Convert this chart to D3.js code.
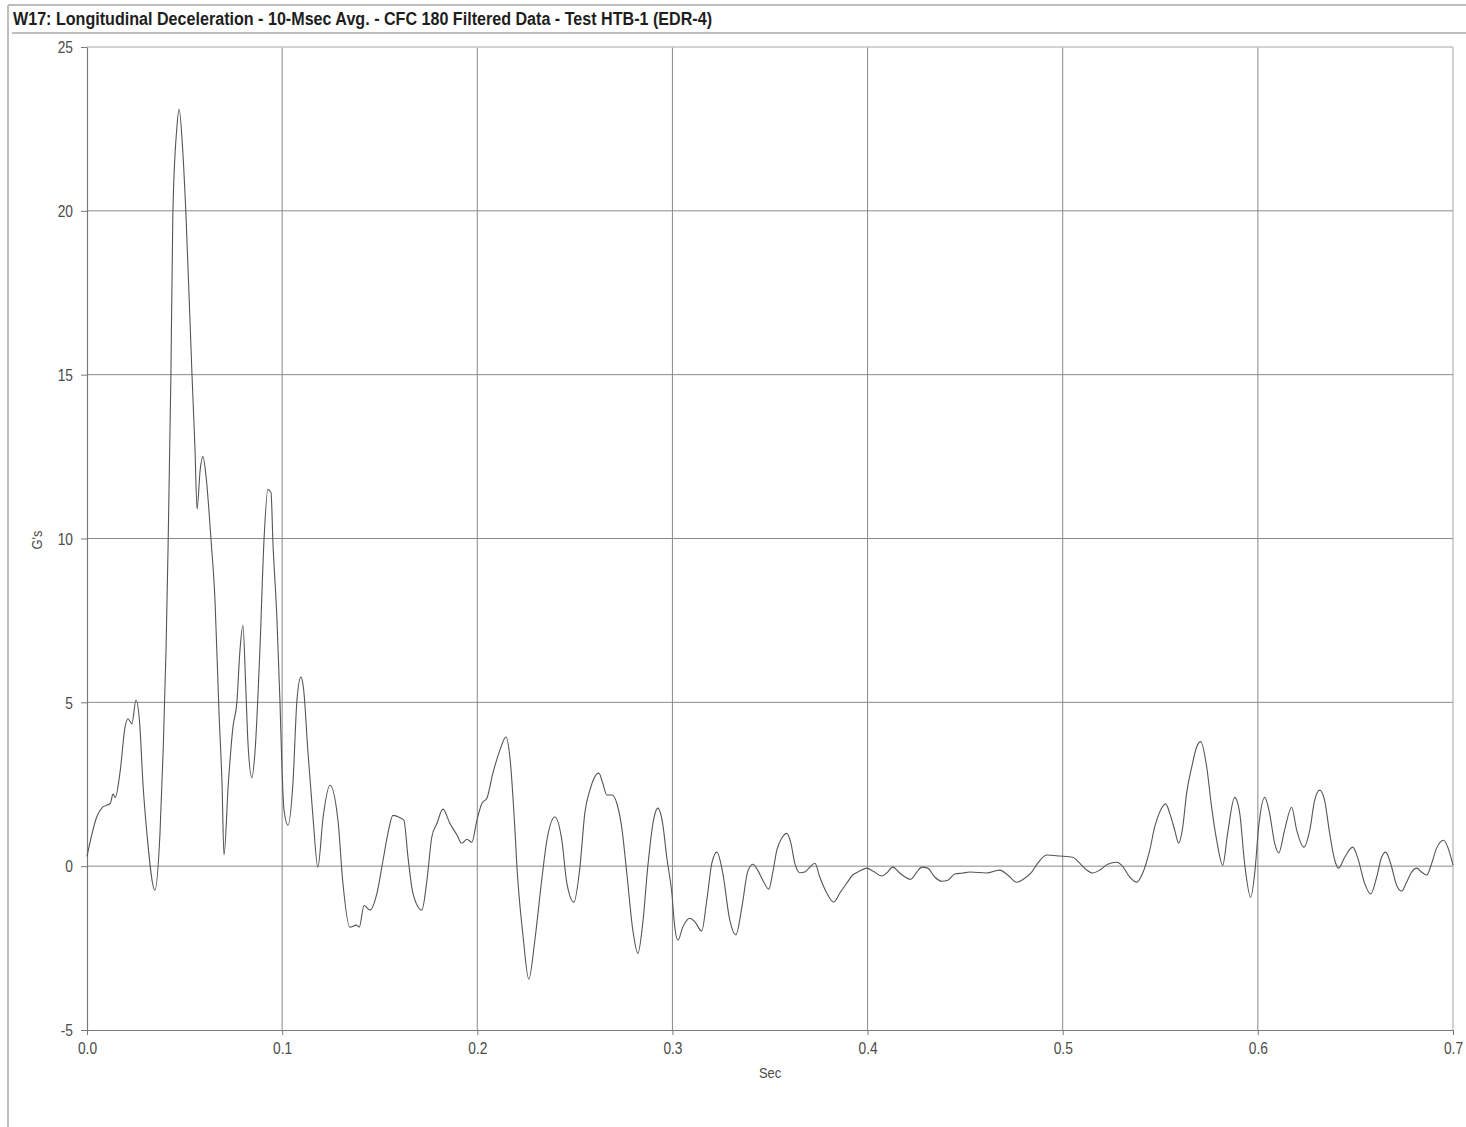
<!DOCTYPE html>
<html>
<head>
<meta charset="utf-8">
<script src="https://cdn.jsdelivr.net/npm/d3@7"></script>
<style>
  html, body { margin: 0; padding: 0; background: #fff; }
  svg { display: block; }
</style>
</head>
<body>
<svg id="chart" width="1466" height="1127"></svg>
<script>
const title = "W17: Longitudinal Deceleration - 10-Msec Avg. - CFC 180 Filtered Data - Test HTB-1 (EDR-4)";
const xLabel = "Sec";
const yLabel = "G's";
const xTicks = [0, 0.1, 0.2, 0.3, 0.4, 0.5, 0.6, 0.7];
const yTicks = [-5, 0, 5, 10, 15, 20, 25];

const timeSec = [
  0.000, 0.005, 0.008, 0.012, 0.0133, 0.0145, 0.017, 0.0195, 0.021, 0.023, 0.0251, 0.027, 0.0287, 0.0307, 0.0348, 0.0374, 0.039, 0.0405, 0.0415,
  0.043, 0.044, 0.046, 0.0472, 0.049, 0.0507, 0.0538, 0.0553, 0.0564, 0.058, 0.0594, 0.061, 0.0635, 0.0656, 0.0676, 0.0692, 0.0702,
  0.0724, 0.0748, 0.0768, 0.0784, 0.0799, 0.0814, 0.0825, 0.0845, 0.0861, 0.0886, 0.0907, 0.0927, 0.0943, 0.0953, 0.0973, 0.0989, 0.0999,
  0.101, 0.103, 0.1055, 0.1076, 0.1096, 0.111, 0.1132, 0.1158, 0.1183, 0.121, 0.1245, 0.1286, 0.131, 0.1347, 0.138, 0.1395, 0.142, 0.145,
  0.1486, 0.1517, 0.1542, 0.1568, 0.1609, 0.1624, 0.1645, 0.167, 0.1716, 0.1742, 0.1767, 0.1793, 0.1824, 0.186, 0.1896, 0.192, 0.1947,
  0.1972, 0.1998, 0.2024, 0.2049, 0.208, 0.2116, 0.2147, 0.2167, 0.2193, 0.2203, 0.2234, 0.2264, 0.2295, 0.233, 0.2357, 0.2398, 0.2433,
  0.2459, 0.2495, 0.2526, 0.2551, 0.2577, 0.2623, 0.2643, 0.2664, 0.269, 0.2715, 0.274, 0.2766, 0.2797, 0.2823, 0.2848, 0.2874, 0.290,
  0.2925, 0.295, 0.2971, 0.2997, 0.3012, 0.3028, 0.3053, 0.3089, 0.3115, 0.315, 0.3176, 0.3202, 0.3228, 0.3258, 0.3294, 0.3325, 0.3356,
  0.3386, 0.3412, 0.3437, 0.3463, 0.3494, 0.3514, 0.3535, 0.356, 0.3586, 0.3607, 0.3627, 0.3653, 0.3678, 0.3704, 0.373, 0.3755, 0.3791,
  0.3827, 0.3858, 0.3893, 0.3924, 0.396, 0.3996, 0.4027, 0.4073, 0.4098, 0.4129, 0.4165, 0.4221, 0.4252, 0.4278, 0.4308, 0.4344, 0.438,
  0.4411, 0.4447, 0.4488, 0.4524, 0.461, 0.4677, 0.4718, 0.4764, 0.4805, 0.4841, 0.4872, 0.4918, 0.4985, 0.5051, 0.5087, 0.5123, 0.5154,
  0.519, 0.523, 0.5277, 0.5302, 0.5343, 0.5379, 0.541, 0.5446, 0.5471, 0.5497, 0.5528, 0.5548, 0.5574, 0.5594, 0.5615, 0.5635, 0.5661,
  0.5686, 0.5707, 0.5738, 0.5763, 0.5789, 0.582, 0.5845, 0.5881, 0.5907, 0.5932, 0.5963, 0.5984, 0.6004, 0.6035, 0.606, 0.6086, 0.6107,
  0.6137, 0.6173, 0.6199, 0.6235, 0.6266, 0.6291, 0.6317, 0.6342, 0.6368, 0.6394, 0.6414, 0.6445, 0.6486, 0.6511, 0.6547, 0.6578, 0.6609,
  0.6634, 0.6655, 0.668, 0.6711, 0.6737, 0.6762, 0.6788, 0.6814, 0.6839, 0.6865, 0.6891, 0.6916, 0.6952, 0.6973, 0.700
];
const gValues = [
  0.30, 1.50, 1.80, 1.92, 2.20, 2.10, 2.90, 4.25, 4.50, 4.35, 5.07, 4.35, 2.50, 1.00, -0.73, 1.00, 3.50, 6.60, 9.60,
  15.0, 19.9, 22.5, 23.1, 21.9, 19.9, 15.0, 12.8, 10.9, 12.1, 12.5, 11.9, 10.0, 8.10, 4.75, 2.50, 0.34,
  2.50, 4.25, 5.00, 6.60, 7.35, 5.40, 3.75, 2.70, 3.50, 6.60, 9.95, 11.5, 11.4, 9.85, 7.60, 5.00, 3.00,
  1.70, 1.25, 2.50, 5.07, 5.77, 5.40, 3.50, 1.50, -0.03, 1.50, 2.47, 1.40, -0.43, -1.86, -1.80, -1.86, -1.20, -1.34,
  -0.82, 0.18, 1.00, 1.55, 1.46, 1.40, 0.27, -0.82, -1.34, -0.43, 0.89, 1.30, 1.74, 1.30, 0.95, 0.70, 0.82,
  0.73, 1.40, 1.92, 2.07, 2.84, 3.54, 3.94, 3.33, 1.10, 0.00, -2.10, -3.45, -2.26, -0.43, 0.80, 1.50, 0.80,
  -0.52, -1.10, -0.03, 1.62, 2.32, 2.84, 2.53, 2.17, 2.17, 1.92, 1.19, -0.20, -1.95, -2.66, -1.74, 0.00, 1.30,
  1.77, 1.30, 0.27, -0.82, -1.86, -2.26, -1.86, -1.59, -1.70, -1.98, -1.04, 0.09, 0.43, -0.21, -1.65, -2.10, -1.25,
  -0.16, 0.06, -0.12, -0.43, -0.70, -0.20, 0.49, 0.85, 1.00, 0.70, 0.09, -0.20, -0.18, -0.03, 0.09, -0.33, -0.82,
  -1.10, -0.82, -0.52, -0.27, -0.15, -0.06, -0.15, -0.30, -0.21, -0.03, -0.21, -0.40, -0.18, -0.03, -0.06, -0.33, -0.46,
  -0.43, -0.24, -0.21, -0.18, -0.21, -0.12, -0.27, -0.49, -0.37, -0.18, 0.09, 0.34, 0.31, 0.27, 0.09, -0.12, -0.21,
  -0.12, 0.06, 0.12, 0.03, -0.33, -0.49, -0.21, 0.49, 1.19, 1.65, 1.90, 1.62, 1.10, 0.70, 1.19, 2.23, 3.02,
  3.63, 3.80, 3.02, 1.80, 0.79, 0.03, 1.00, 2.10, 1.62, 0.09, -0.95, -0.21, 1.19, 2.10, 1.62, 0.70, 0.40,
  1.10, 1.80, 1.10, 0.58, 1.10, 2.01, 2.32, 2.01, 1.00, 0.18, -0.06, 0.27, 0.58, 0.27, -0.52, -0.85, -0.33,
  0.27, 0.43, 0.09, -0.58, -0.76, -0.49, -0.18, -0.06, -0.18, -0.27, 0.09, 0.55, 0.79, 0.58, 0.03
];

const data = timeSec.map((t, i) => ({ t, g: gValues[i] }));

const svg = d3.select("#chart");
const W = 1466, H = 1127;
const plot = { left: 87, right: 1453, top: 47, bottom: 1030 };
const font = "'Liberation Sans Narrow', 'Arial Narrow', 'Liberation Sans', Arial, sans-serif";
const SX = 0.86; // horizontal squeeze to mimic the narrow face

// outer frame
svg.append("line").attr("x1", 8).attr("y1", 5).attr("x2", W).attr("y2", 5)
  .attr("stroke", "#bdbdbd").attr("stroke-width", 2);
svg.append("line").attr("x1", 8).attr("y1", 5).attr("x2", 8).attr("y2", H)
  .attr("stroke", "#bdbdbd").attr("stroke-width", 2);
// title underline
svg.append("line").attr("x1", 12).attr("y1", 33).attr("x2", W).attr("y2", 33)
  .attr("stroke", "#a8a8a8").attr("stroke-width", 1.5);

svg.append("text")
  .attr("x", 13).attr("y", 25)
  .attr("font-family", font)
  .attr("font-size", 17.5).attr("font-weight", "bold").attr("fill", "#1e1e1e")
  .attr("textLength", 699).attr("lengthAdjust", "spacingAndGlyphs")
  .text(title);

const x = d3.scaleLinear().domain([0, 0.7]).range([plot.left, plot.right]);
const y = d3.scaleLinear().domain([-5, 25]).range([plot.bottom, plot.top]);

// grid
const grid = svg.append("g");
grid.selectAll("line.v").data(xTicks.slice(1)).join("line")
  .attr("x1", d => x(d)).attr("x2", d => x(d))
  .attr("y1", plot.top).attr("y2", plot.bottom)
  .attr("stroke", d => d === 0.7 ? "#c4c4c4" : "#8a8a8a").attr("stroke-width", d => d === 0.7 ? 1.5 : 1);
grid.selectAll("line.h").data(yTicks.slice(1)).join("line")
  .attr("x1", plot.left).attr("x2", plot.right)
  .attr("y1", d => y(d)).attr("y2", d => y(d))
  .attr("stroke", d => d === 25 ? "#c4c4c4" : "#8a8a8a").attr("stroke-width", d => d === 25 ? 1.5 : 1);

// axes
const xAxis = svg.append("g").attr("transform", `translate(0,${plot.bottom})`)
  .call(d3.axisBottom(x).tickValues(xTicks).tickFormat(d3.format(".1f")).tickSize(5).tickSizeOuter(0));
const yAxis = svg.append("g").attr("transform", `translate(${plot.left},0)`)
  .call(d3.axisLeft(y).tickValues(yTicks).tickFormat(d => String(d)).tickSize(6).tickSizeOuter(0));
[xAxis, yAxis].forEach(a => {
  a.select(".domain").attr("stroke", "#7a7a7a").attr("stroke-width", 1.2);
  a.selectAll(".tick line").attr("stroke", "#7a7a7a");
  a.selectAll(".tick text").attr("font-family", font).attr("font-size", 16).attr("fill", "#4a4a4a");
});
xAxis.selectAll(".tick text").attr("y", 10).attr("dy", "0.9em").attr("transform", `scale(${SX},1)`);
yAxis.selectAll(".tick text").attr("x", -14 / SX).attr("dy", "0.36em").attr("transform", `scale(${SX},1)`);

svg.append("text").attr("transform", `translate(770,1078) scale(${SX},1)`).attr("text-anchor", "middle")
  .attr("font-family", font).attr("font-size", 15).attr("fill", "#4a4a4a").text(xLabel);
svg.append("text").attr("transform", `translate(42,540) rotate(-90) scale(${SX},1)`).attr("text-anchor", "middle")
  .attr("font-family", font).attr("font-size", 15).attr("fill", "#4a4a4a").text(yLabel);

// curve
const line = d3.line().x(d => x(d.t)).y(d => y(d.g)).curve(d3.curveMonotoneX);
svg.append("path").datum(data).attr("d", line)
  .attr("fill", "none").attr("stroke", "#555").attr("stroke-width", 1.1);
</script>
</body>
</html>
